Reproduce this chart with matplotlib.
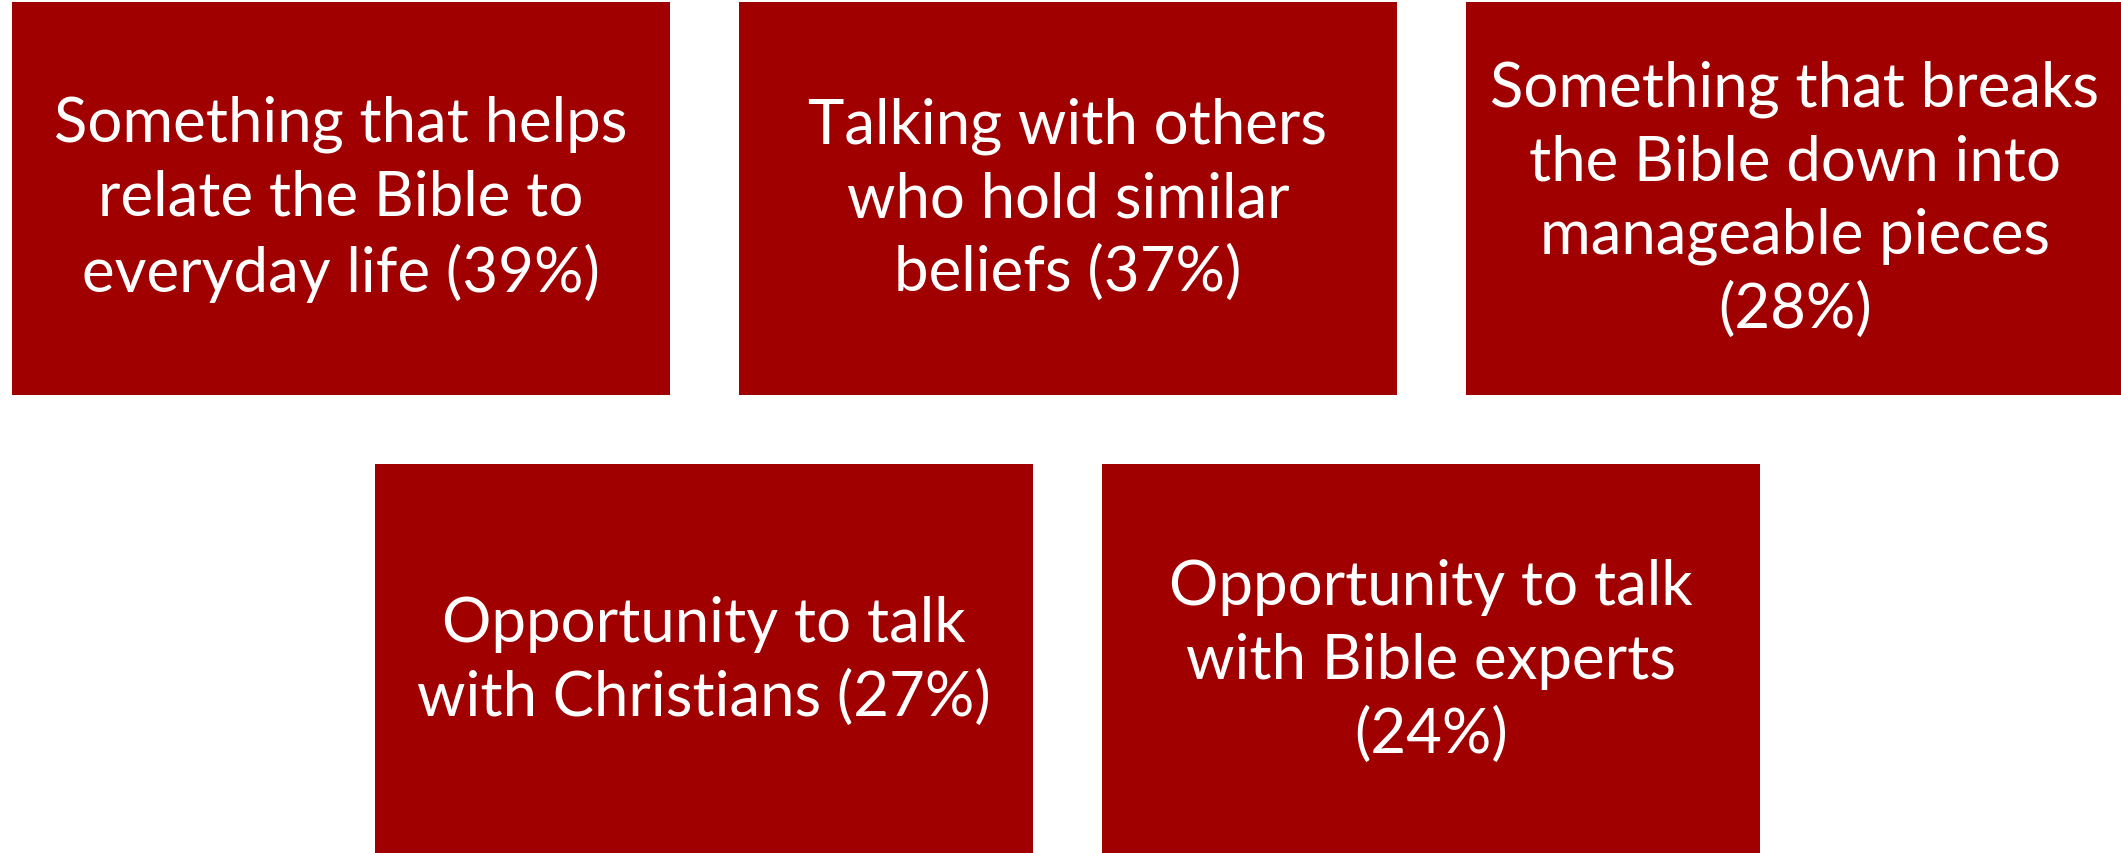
import matplotlib
matplotlib.use("Agg")
import matplotlib.pyplot as plt

# Data
categories = [
    "Something that helps\nrelate the Bible to\neveryday life",
    "Talking with others\nwho hold similar\nbeliefs",
    "Something that breaks\nthe Bible down into\nmanageable pieces",
    "Opportunity to talk\nwith Christians",
    "Opportunity to talk\nwith Bible experts",
]
percentages = [39, 37, 28, 27, 24]
separators = [" ", " ", "\n", " ", "\n"]

W, H = 2121, 854
fig = plt.figure(figsize=(W / 100, H / 100), dpi=100)
ax = fig.add_axes([0, 0, 1, 1])
ax.set_xlim(0, W)
ax.set_ylim(H, 0)
ax.axis("off")

box_color = "#A00000"
box_w, box_h = 658, 393
step_x = 727
row_tops = [3, 465]
row_starts = [12, 375]
row_counts = [3, 2]

idx = 0
for r in range(2):
    for c in range(row_counts[r]):
        x0 = row_starts[r] + c * step_x
        y0 = row_tops[r]
        ax.bar(x0, box_h, width=box_w, bottom=y0, align="edge",
               color=box_color, edgecolor="none")
        label = f"{categories[idx]}{separators[idx]}({percentages[idx]}%)"
        ax.text(x0 + box_w / 2, y0 + box_h / 2, label, ha="center", va="center",
                color="white", fontsize=44.5, family="Lato", linespacing=1.355)
        idx += 1

fig.savefig("out.png", dpi=100)
